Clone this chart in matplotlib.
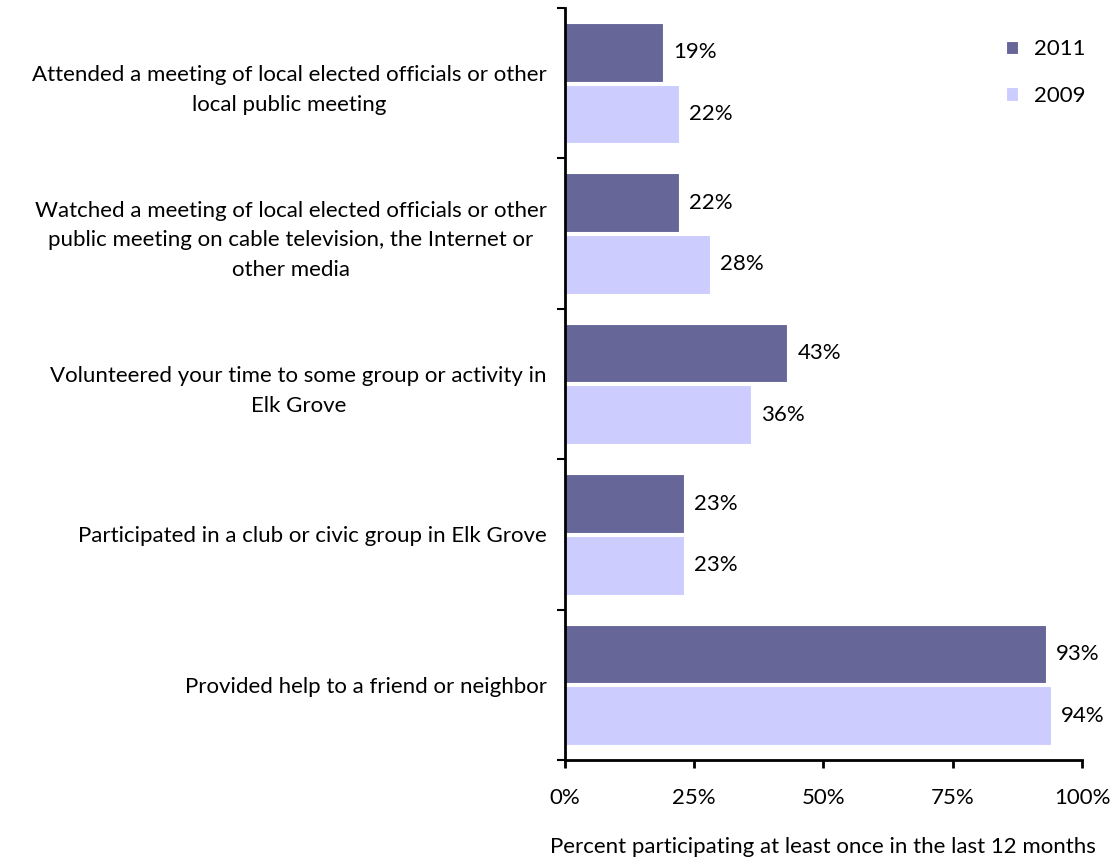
import matplotlib
matplotlib.use("Agg")
import matplotlib.pyplot as plt
import numpy as np

plt.rcParams['font.family'] = ['Lato', 'DejaVu Sans']

categories = [
    "Attended a meeting of local elected officials or other\nlocal public meeting",
    "Watched a meeting of local elected officials or other\npublic meeting on cable television, the Internet or\nother media",
    "Volunteered your time to some group or activity in\nElk Grove",
    "Participated in a club or civic group in Elk Grove",
    "Provided help to a friend or neighbor",
]
values_2011 = [19, 22, 43, 23, 93]
values_2009 = [22, 28, 36, 23, 94]
series_names = ["2011", "2009"]
colors = ["#666699", "#CCCCFF"]
xticks = [0, 25, 50, 75, 100]
xtick_labels = ["0%", "25%", "50%", "75%", "100%"]

FS = 16

fig = plt.figure(figsize=(11.12, 8.59), dpi=100)
ax = fig.add_axes([0.508, 0.1153, 0.465, 0.8754])

n = len(categories)
y = np.arange(n)
h = 0.39
off = 0.205
b1 = ax.barh(y - off, values_2011, height=h, color=colors[0], edgecolor='white', linewidth=0.8, label=series_names[0])
b2 = ax.barh(y + off, values_2009, height=h, color=colors[1], edgecolor='white', linewidth=0.8, label=series_names[1])

for bars, vals in ((b1, values_2011), (b2, values_2009)):
    for rect, v in zip(bars, vals):
        ax.text(v + 2.0, rect.get_y() + rect.get_height() / 2, f"{v}%",
                va='center', ha='left', fontsize=FS, color='black')

ax.set_ylim(n - 0.5, -0.5)
ax.set_xlim(0, 100)
ax.set_xticks(xticks)
ax.set_xticklabels(xtick_labels, fontsize=FS)
ax.tick_params(axis='x', length=6, width=2, pad=14, direction='out')

ax.set_yticks(np.arange(n + 1) - 0.5, minor=False)
ax.set_yticklabels([])
ax.tick_params(axis='y', length=6, width=1.5, direction='out')
ax.set_yticks(y, minor=True)
ax.set_yticklabels(categories, minor=True, fontsize=FS, linespacing=1.6,
                   ha='right', multialignment='center')
ax.tick_params(axis='y', which='minor', length=0, pad=13)

for s in ['top', 'right']:
    ax.spines[s].set_visible(False)
ax.spines['left'].set_linewidth(2)
ax.spines['bottom'].set_linewidth(2)

ax.set_xlabel("Percent participating at least once in the last 12 months", fontsize=FS, labelpad=21)

leg = ax.legend(loc='upper right', bbox_to_anchor=(1.045, 0.985), frameon=False, fontsize=FS,
                handlelength=0.55, handleheight=0.55, labelspacing=1.2, handletextpad=0.7)

fig.savefig("out.png", dpi=100)
